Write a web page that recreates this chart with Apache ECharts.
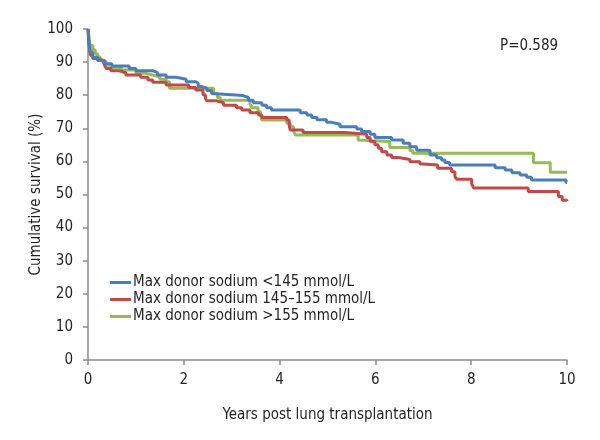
<!DOCTYPE html>
<html>
<head>
<meta charset="utf-8">
<script src="https://cdn.jsdelivr.net/npm/echarts@6/dist/echarts.min.js"></script>
<style>
  html, body { margin: 0; padding: 0; background: #fff; }
  #main { width: 600px; height: 440px; }
</style>
</head>
<body>
<div id="main"></div>
<script>
// Kaplan-Meier steps: time of drop (years), survival after it (%)
var lowYears = [0, 0.02, 0.05, 0.1, 0.2, 0.35, 0.5, 0.86, 1.0, 1.35, 1.45, 1.63, 1.84, 2.05, 2.25, 2.3, 2.38, 2.48, 2.58, 2.62, 3.24, 3.35, 3.45, 3.63, 3.73, 3.83, 4.43, 4.57, 4.67, 4.78, 4.98, 5.09, 5.26, 5.61, 5.71, 5.89, 5.99, 6.34, 6.58, 6.72, 6.86, 7.14, 7.28, 7.38, 7.45, 7.55, 8.5, 8.71, 8.85, 9.02, 9.16, 9.26, 9.98, 10];
var lowSurv = [100, 96, 93, 91.5, 90.5, 89.5, 88.8, 88.1, 87.4, 86.8, 86.1, 85.4, 84.8, 84.1, 83.6, 82.6, 82.1, 81.4, 80.5, 79.9, 79.3, 78.5, 77.7, 77.0, 76.2, 75.5, 74.7, 74.0, 73.3, 72.6, 71.8, 71.2, 70.5, 69.8, 69.0, 68.2, 67.2, 66.5, 65.5, 64.4, 63.4, 61.9, 61.1, 60.4, 59.7, 58.9, 58.1, 57.4, 56.6, 55.9, 55.2, 54.4, 53.6, 53.6];

var midYears = [0, 0.01, 0.03, 0.05, 0.1, 0.2, 0.31, 0.35, 0.38, 0.48, 0.65, 0.79, 1.1, 1.25, 1.35, 1.63, 2.1, 2.25, 2.4, 2.45, 2.48, 2.69, 2.83, 3.1, 3.21, 3.38, 3.56, 3.63, 4.15, 4.2, 4.22, 4.49, 5.37, 5.82, 5.89, 5.99, 6.06, 6.13, 6.24, 6.34, 6.48, 6.72, 6.93, 7.0, 7.3, 7.59, 7.66, 7.7, 8.01, 8.05, 9.19, 9.82, 9.9, 10];
var midSurv = [100, 97, 94, 92.1, 91.1, 90.5, 89.9, 88.9, 88.1, 87.4, 86.8, 86.1, 85.4, 84.6, 83.9, 83.1, 82.3, 81.6, 80.1, 79.0, 78.3, 77.7, 77.0, 76.2, 75.5, 74.7, 74.0, 73.3, 72.5, 71.0, 69.5, 68.7, 68.2, 67.2, 66.0, 65.0, 64.0, 62.9, 61.9, 61.2, 60.6, 59.9, 59.2, 58.9, 57.9, 56.9, 55.4, 54.6, 53.2, 52.0, 50.9, 49.4, 48.3, 48.0];

var highYears = [0, 0.02, 0.04, 0.1, 0.15, 0.2, 0.25, 0.31, 0.38, 0.48, 0.7, 1.0, 1.2, 1.35, 1.5, 1.63, 1.7, 2.62, 2.7, 2.76, 3.38, 3.42, 3.55, 3.6, 3.63, 4.15, 4.22, 4.29, 4.33, 5.64, 5.66, 6.3, 6.72, 6.78, 9.3, 9.65, 10];
var highSurv = [100, 98, 95, 93.7, 92.5, 91.6, 90.6, 90.1, 89.1, 88.3, 87.6, 86.6, 86.1, 85.6, 84.8, 84.1, 82.1, 80.5, 79.3, 78.5, 77.5, 76.2, 75.0, 74.0, 72.5, 71.5, 70.5, 69.2, 68.0, 66.5, 66.0, 64.2, 63.2, 62.5, 59.6, 56.7, 56.7];

var groupNames = ['Max donor sodium <145 mmol/L', 'Max donor sodium 145\u2013155 mmol/L', 'Max donor sodium >155 mmol/L'];
var groupColors = ['#4a7ebb', '#be4b48', '#98b954'];

var xTicks = [0, 2, 4, 6, 8, 10];
var yTicks = [0, 10, 20, 30, 40, 50, 60, 70, 80, 90, 100];

function zip(xs, ys) {
  return xs.map(function (x, i) { return [x, ys[i]]; });
}

var font = "'DejaVu Sans Condensed', 'Liberation Sans Narrow', sans-serif";
var ink = '#231f20';
var axisGray = '#8c8c8c';

var chart = echarts.init(document.getElementById('main'));

var seriesData = [zip(lowYears, lowSurv), zip(midYears, midSurv), zip(highYears, highSurv)];

var option = {
  animation: false,
  textStyle: { fontFamily: font, color: ink },
  grid: { left: 88, right: 33, top: 29, bottom: 80 },
  legend: {
    orient: 'vertical',
    left: 105,
    top: 270,
    icon: 'rect',
    itemWidth: 21,
    itemHeight: 3,
    itemGap: 2,
    textStyle: { fontFamily: font, fontSize: 15, color: ink, lineHeight: 15, padding: [0, 0, 0, -3] },
    data: groupNames
  },
  xAxis: {
    type: 'value',
    min: 0,
    max: 10,
    interval: 2,
    name: 'Years post lung transplantation',
    nameLocation: 'middle',
    nameGap: 48,
    nameMoveOverlap: false,
    nameTextStyle: { fontFamily: font, fontSize: 15, color: ink },
    axisLine: { lineStyle: { color: axisGray, width: 1.5 } },
    axisTick: { show: true, length: 5, lineStyle: { color: axisGray, width: 1.5 } },
    axisLabel: {
      fontFamily: font, fontSize: 15, color: ink, margin: 13,
      formatter: function (v) { return xTicks.indexOf(v) >= 0 ? String(v) : ''; }
    },
    splitLine: { show: false }
  },
  yAxis: {
    type: 'value',
    min: 0,
    max: 100,
    interval: 10,
    name: 'Cumulative survival (%)',
    nameLocation: 'middle',
    nameGap: 44,
    nameMoveOverlap: false,
    nameTextStyle: { fontFamily: font, fontSize: 15, color: ink },
    axisLine: { show: true, lineStyle: { color: axisGray, width: 1.5 } },
    axisTick: { show: true, length: 5, lineStyle: { color: axisGray, width: 1.5 } },
    axisLabel: {
      fontFamily: font, fontSize: 15, color: ink, margin: 15,
      formatter: function (v) { return yTicks.indexOf(v) >= 0 ? String(v) : ''; }
    },
    splitLine: { show: false }
  },
  graphic: [{
    type: 'text',
    left: 500,
    top: 39,
    style: { text: 'P=0.589', fontFamily: font, fontSize: 15, fill: ink }
  }],
  series: groupNames.map(function (name, i) {
    return {
      name: name,
      type: 'line',
      step: 'end',
      data: seriesData[i],
      showSymbol: false,
      symbol: 'none',
      color: groupColors[i],
      lineStyle: { color: groupColors[i], width: 3 },
      z: 3 - i
    };
  })
};

chart.setOption(option);
</script>
</body>
</html>
